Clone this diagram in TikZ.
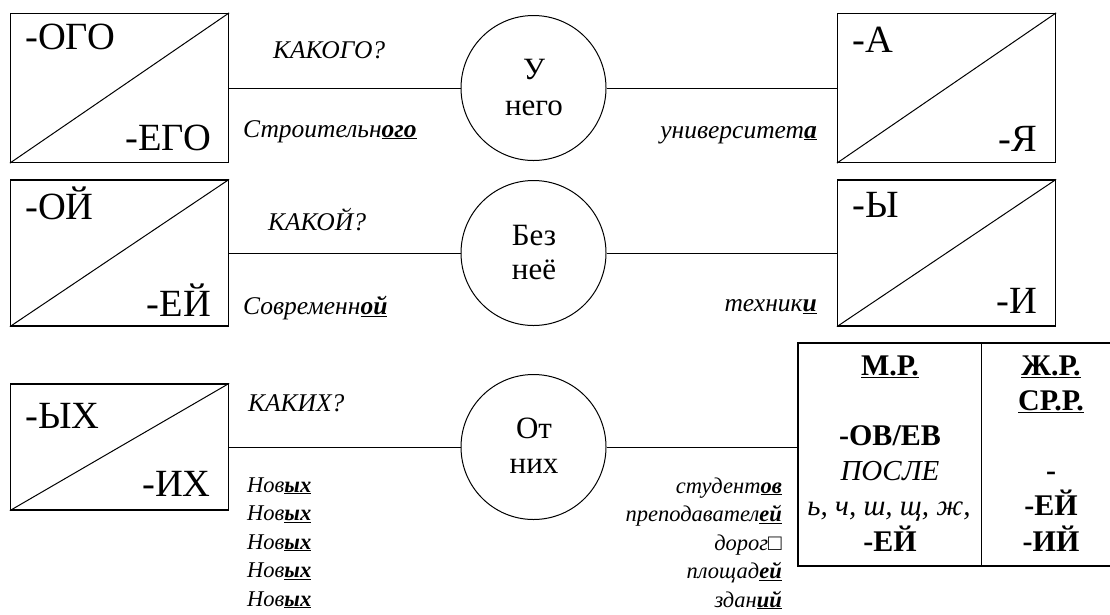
\documentclass[tikz,border=0pt]{standalone}
\usepackage{fontspec}
\setmainfont{Liberation Serif}
% bold underlined case ending
\newcommand\sfx[1]{\underline{\textbf{#1}}}
\begin{document}
\begin{tikzpicture}[x=1pt,y=-1pt,
  frame/.style={draw, line width=1.2pt, minimum width=218pt, inner sep=0pt},
  ring/.style={draw, circle, line width=1pt, minimum size=145pt, inner sep=0pt},
  link/.style={line width=1pt},
  big/.style={inner sep=0pt, font=\fontsize{38.5}{42}\selectfont},
  mid/.style={inner sep=0pt, font=\fontsize{31}{34}\selectfont},
  ask/.style={inner sep=0pt, font=\itshape\fontsize{25.5}{28}\selectfont},
  word/.style={inner sep=0pt, font=\itshape\fontsize{22.5}{26}\selectfont},
  cell/.style={inner sep=0pt, font=\bfseries\fontsize{30}{33}\selectfont},
  note/.style={inner sep=0pt, font=\itshape\fontsize{29}{32}\selectfont}]
\useasboundingbox (0,0) rectangle (1110,614);
\clip (0,0) rectangle (1110,614);

% ---- row 1: masculine / neuter singular ----
\node[frame, minimum height=149pt] (b1) at (119.5,88) {};
\draw[link] (b1.south west) -- (b1.north east);
\node[big, anchor=base west] (b1u) at (25,49) {-ОГО};
\node[big, anchor=base east] (b1d) at (211,150) {-ЕГО};
\node[ring] (c1) at (533.5,88) {};
\node[mid, anchor=base] (c1a) at (534,79) {У};
\node[mid, anchor=base] (c1b) at (534,115) {него};
\node[frame, minimum height=149pt] (r1) at (946.5,88) {};
\draw[link] (r1.south west) -- (r1.north east);
\node[big, anchor=base west] (r1u) at (852,52) {-А};
\node[big, anchor=base east] (r1d) at (1037,151) {-Я};
\draw[link] (b1) -- (c1);
\draw[link] (c1) -- (r1);
\node[ask, anchor=base west] (q1) at (273,58) {КАКОГО?};
\node[ask, anchor=base west] (w1) at (243,137) {Строительн\sfx{ого}};
\node[ask, anchor=base east] (n1) at (817,138) {университет\sfx{а}};

% ---- row 2: feminine singular ----
\node[frame, minimum height=146pt] (b2) at (119.5,253) {};
\draw[link] (b2.south west) -- (b2.north east);
\node[big, anchor=base west] (b2u) at (25,219) {-ОЙ};
\node[big, anchor=base east] (b2d) at (211,316) {-ЕЙ};
\node[ring] (c2) at (533.5,253) {};
\node[mid, anchor=base] (c2a) at (534,245) {Без};
\node[mid, anchor=base] (c2b) at (534,279) {неё};
\node[frame, minimum height=146pt] (r2) at (946.5,253) {};
\draw[link] (r2.south west) -- (r2.north east);
\node[big, anchor=base west] (r2u) at (852,217) {-Ы};
\node[big, anchor=base east] (r2d) at (1037,313) {-И};
\draw[link] (b2) -- (c2);
\draw[link] (c2) -- (r2);
\node[ask, anchor=base west] (q2) at (268,230) {КАКОЙ?};
\node[ask, anchor=base west] (w2) at (243,314) {Современн\sfx{ой}};
\node[ask, anchor=base east] (n2) at (817,311) {техник\sfx{и}};

% ---- row 3: plural ----
\node[frame, minimum height=126pt] (b3) at (119.5,447) {};
\draw[link] (b3.south west) -- (b3.north east);
\node[big, anchor=base west] (b3u) at (25,428) {-ЫХ};
\node[big, anchor=base east] (b3d) at (211,496) {-ИХ};
\node[ring] (c3) at (533.5,447) {};
\node[mid, anchor=base] (c3a) at (534,438) {От};
\node[mid, anchor=base] (c3b) at (534,473) {них};
\draw[link] (b3) -- (c3);
\node[ask, anchor=base west] (q3) at (248,411) {КАКИХ?};
\foreach \i/\y in {1/492,2/520.5,3/549,4/577.5,5/606}
  \node[word, anchor=base west] (adj\i) at (247,\y) {Нов\sfx{ых}};
\node[word, anchor=base east] (pl1) at (782,493) {студент\sfx{ов}};
\node[word, anchor=base east] (pl2) at (782,521.5) {преподавател\sfx{ей}};
\node[word, anchor=base east] (pl3) at (782,550) {дорог□};
\node[word, anchor=base east] (pl4) at (782,578.5) {площад\sfx{ей}};
\node[word, anchor=base east] (pl5) at (782,607) {здан\sfx{ий}};

% ---- endings table ----
\node[draw, line width=1.4pt, minimum width=322pt, minimum height=223pt, inner sep=0pt] (tb) at (959,454.5) {};
\draw[line width=1.4pt] (tb.north west) ++(184,0) coordinate (tbm) -- (tbm |- tb.south);
\draw[link] (c3.east) -- (c3.east -| tb.west);
\node[cell, anchor=base] (m1) at (890,375) {\underline{М.Р.}};
\node[cell, anchor=base] (m2) at (890,445) {-ОВ/ЕВ};
\node[note, anchor=base] (m3) at (890,480) {ПОСЛЕ};
\node[note, anchor=base] (m4) at (889,515) {ь, ч, ш, щ, ж,};
\node[cell, anchor=base] (m5) at (890,551) {-ЕЙ};
\node[cell, anchor=base] (f1) at (1051,375) {\underline{Ж.Р.}};
\node[cell, anchor=base] (f2) at (1051,410) {\underline{СР.Р.}};
\node[cell, anchor=base] (f3) at (1051,480) {-};
\node[cell, anchor=base] (f4) at (1051,515) {-ЕЙ};
\node[cell, anchor=base] (f5) at (1051,551) {-ИЙ};
\end{tikzpicture}
\end{document}
